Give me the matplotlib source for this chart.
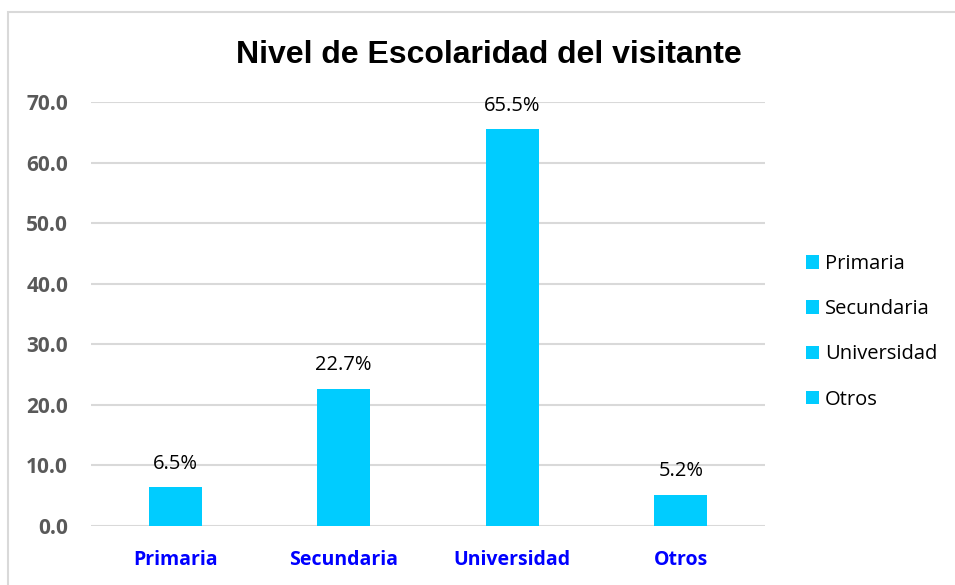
import matplotlib
matplotlib.use('Agg')
import matplotlib.pyplot as plt
from matplotlib.patches import Patch, Rectangle

categorias = ['Primaria', 'Secundaria', 'Universidad', 'Otros']
porcentajes = [6.5, 22.7, 65.5, 5.2]
yticks = [0, 10, 20, 30, 40, 50, 60, 70]

cyan = '#00CCFF'
grid = '#D9D9D9'
lab = 'Open Sans'

fig = plt.figure(figsize=(9.55, 5.85), dpi=100)
# chart frame
fig.patches.append(Rectangle((8 / 955, -0.1), 1.2, 1 - 12 / 585 + 0.1, transform=fig.transFigure,
                             fill=False, edgecolor='#D9D9D9', lw=1.5))

ax = fig.add_axes([91 / 955, 1 - 526 / 585, (765 - 91) / 955, (526 - 102) / 585])
x = range(len(categorias))
bars = ax.bar(x, porcentajes, width=0.315, color=cyan, zorder=3)

ax.set_xlim(-0.5, len(categorias) - 0.5)
ax.set_ylim(0, 70)
ax.set_yticks(yticks)
ax.set_yticklabels([f'{v:.1f}' for v in yticks], fontfamily=lab, fontweight='bold',
                   fontsize=15, color='#595959')
ax.set_xticks(list(x))
ax.set_xticklabels(categorias, fontfamily=lab, fontweight='bold', fontsize=14, color='#0000FF')
ax.tick_params(axis='y', length=0, pad=16.5)
ax.tick_params(axis='x', length=0, pad=17)
ax.grid(axis='y', color=grid, lw=1.5, zorder=0)
for s in ax.spines.values():
    s.set_visible(False)

for b, v in zip(bars, porcentajes):
    ax.annotate(f'{v}%', (b.get_x() + b.get_width() / 2, v), xytext=(0, 13),
                textcoords='offset points', ha='center', va='baseline',
                fontfamily=lab, fontsize=14.5, color='black')

fig.text(489 / 955, 1 - 63 / 585, 'Nivel de Escolaridad del visitante', ha='center', va='baseline',
         fontfamily='Liberation Sans', fontweight='bold', fontsize=23)

handles = [Patch(facecolor=cyan, edgecolor='none') for _ in categorias]
fig.legend(handles, categorias, loc='upper left', bbox_to_anchor=(806 / 955, 1 - 254 / 585),
           frameon=False, borderpad=0, borderaxespad=0, handlelength=0.65, handleheight=0.65,
           handletextpad=0.3, labelspacing=1.25, prop={'family': lab, 'size': 14.5})

fig.savefig('out.png', dpi=100)
